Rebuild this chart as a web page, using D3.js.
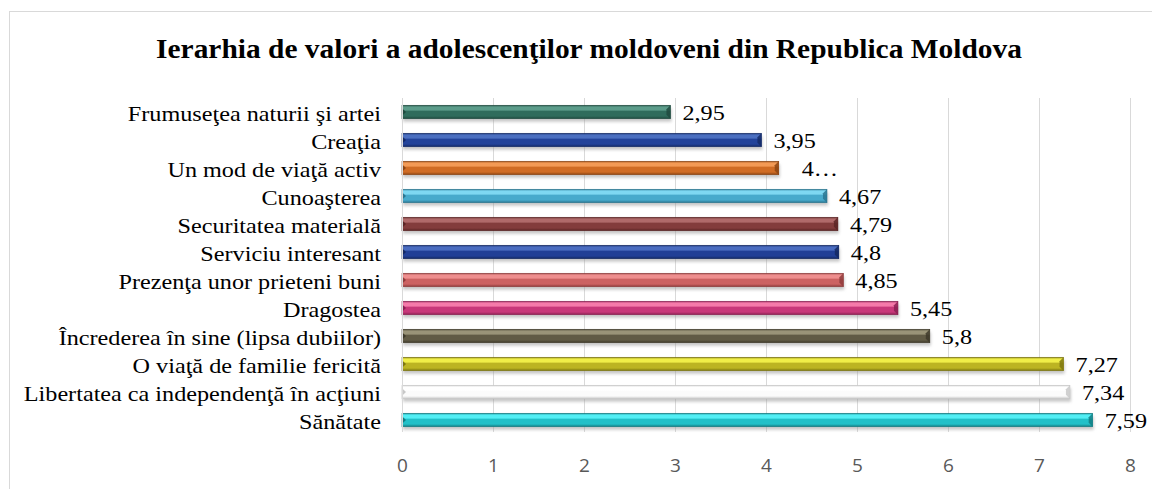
<!DOCTYPE html>
<html>
<head>
<meta charset="utf-8">
<script src="https://cdnjs.cloudflare.com/ajax/libs/d3/7.8.5/d3.min.js"></script>
<style>
  body { margin: 0; background: #fff; }
</style>
</head>
<body>
<div id="chart"></div>
<script>
var categories = [
    "Frumuseţea naturii şi artei",
    "Creaţia",
    "Un mod de viaţă activ",
    "Cunoaşterea",
    "Securitatea materială",
    "Serviciu interesant",
    "Prezenţa unor prieteni buni",
    "Dragostea",
    "Încrederea în sine (lipsa dubiilor)",
    "O viaţă de familie fericită",
    "Libertatea ca independenţă în acţiuni",
    "Sănătate"
];
var values = [2.95, 3.95, 4.14, 4.67, 4.79, 4.8, 4.85, 5.45, 5.8, 7.27, 7.34, 7.59];
var valueLabels = ["2,95", "3,95", "4…", "4,67", "4,79", "4,8", "4,85", "5,45", "5,8", "7,27", "7,34", "7,59"];
var ticks = [0, 1, 2, 3, 4, 5, 6, 7, 8];
// [highlight, base, dark]
var barColors = [
    ["#5c9c8a", "#2f6c5c", "#1e4a3e"],
    ["#4b6fc0", "#23439a", "#142a66"],
    ["#f39a55", "#d06c24", "#8c4412"],
    ["#7ed8f2", "#47aacc", "#2a7590"],
    ["#b06a6a", "#833c3c", "#5a2424"],
    ["#4a6cc0", "#213f96", "#132862"],
    ["#ee8e8e", "#cc6262", "#8e3c3c"],
    ["#f57aaa", "#c8387a", "#8a2052"],
    ["#9a9478", "#615b45", "#3e3a2a"],
    ["#f0ee48", "#bcb422", "#7c7610"],
    ["#ffffff", "#fbfbfb", "#c8c8c8"],
    ["#52eef4", "#22c0c8", "#137c82"]
];

var serif = "'Liberation Serif', 'Times New Roman', serif";
var stretch = 1.1;
var W = 1152, H = 489;
var svg = d3.select("#chart").append("svg")
    .attr("width", W).attr("height", H);

// chart frame
svg.append("rect")
    .attr("x", 9.5).attr("y", 11.5)
    .attr("width", W + 20).attr("height", H + 20)
    .attr("fill", "#fff").attr("stroke", "#d9d9d9");

svg.append("text")
    .attr("transform", "translate(589,58) scale(1.09,1)")
    .attr("text-anchor", "middle")
    .style("font-family", serif)
    .style("font-weight", "bold")
    .style("font-size", "27px")
    .text("Ierarhia de valori a adolescenţilor moldoveni din Republica Moldova");

var x = d3.scaleLinear().domain([0, 8]).range([402, 1130]);
var y = d3.scaleBand().domain(categories).range([98, 434])
    .paddingInner(0.52).paddingOuter(0.26);

var defs = svg.append("defs");
barColors.forEach(function(c, i) {
    var g = defs.append("linearGradient")
        .attr("id", "grad" + i)
        .attr("x1", 0).attr("y1", 0).attr("x2", 0).attr("y2", 1);
    g.append("stop").attr("offset", "0%").attr("stop-color", c[2]);
    g.append("stop").attr("offset", "12%").attr("stop-color", c[0]);
    g.append("stop").attr("offset", "35%").attr("stop-color", c[0]);
    g.append("stop").attr("offset", "45%").attr("stop-color", c[1]);
    g.append("stop").attr("offset", "80%").attr("stop-color", c[1]);
    g.append("stop").attr("offset", "100%").attr("stop-color", c[2]);
});
var blur = defs.append("filter").attr("id", "shadow")
    .attr("x", "-5%").attr("y", "-50%").attr("width", "110%").attr("height", "250%");
blur.append("feGaussianBlur").attr("stdDeviation", 1.5);

// gridlines
svg.append("g").selectAll("line")
    .data(ticks.slice(1))
    .enter().append("line")
    .attr("x1", function(d) { return x(d) + 0.5; })
    .attr("x2", function(d) { return x(d) + 0.5; })
    .attr("y1", 98).attr("y2", 432)
    .attr("stroke", "#d9d9d9");

// shadows
svg.append("g").selectAll("rect")
    .data(values)
    .enter().append("rect")
    .attr("x", x(0) + 1)
    .attr("y", function(d, i) { return y(categories[i]) + 3; })
    .attr("width", function(d) { return x(d) - x(0); })
    .attr("height", y.bandwidth())
    .attr("fill", "#9a9a9a")
    .attr("opacity", 0.55)
    .attr("filter", "url(#shadow)");

// bars
var bars = svg.append("g").selectAll("g")
    .data(values)
    .enter().append("g");

bars.append("rect")
    .attr("x", x(0))
    .attr("y", function(d, i) { return y(categories[i]); })
    .attr("width", function(d) { return x(d) - x(0); })
    .attr("height", y.bandwidth())
    .attr("fill", function(d, i) { return "url(#grad" + i + ")"; })
    .attr("stroke", function(d, i) { return barColors[i][2]; })
    .attr("stroke-width", 0.6);

// bevelled end cap
bars.append("path")
    .attr("d", function(d, i) {
        var x1 = x(d), y0 = y(categories[i]), h = y.bandwidth(), b = 4;
        return "M" + (x1 - b) + "," + (y0 + b) + "L" + x1 + "," + y0 +
            "L" + x1 + "," + (y0 + h) + "L" + (x1 - b) + "," + (y0 + h - b) + "Z";
    })
    .attr("fill", function(d, i) { return barColors[i][2]; })
    .attr("opacity", 0.85);

// bevelled start
bars.append("path")
    .attr("d", function(d, i) {
        var x0 = x(0), y0 = y(categories[i]), h = y.bandwidth();
        return "M" + x0 + "," + (y0 + 3) + "L" + (x0 + 4) + "," + (y0 + h / 2) +
            "L" + x0 + "," + (y0 + h - 3) + "Z";
    })
    .attr("fill", function(d, i) { return barColors[i][2]; });

// axis line
svg.append("line")
    .attr("x1", x(0) + 0.5).attr("x2", x(0) + 0.5)
    .attr("y1", 98).attr("y2", 432)
    .attr("stroke", "#d9d9d9");

// value labels
svg.append("g").selectAll("text")
    .data(values)
    .enter().append("text")
    .attr("transform", function(d, i) {
        var tx = x(d) + (valueLabels[i] === "4…" ? 23 : 12);
        var ty = y(categories[i]) + y.bandwidth() / 2 + 0.5;
        return "translate(" + tx + "," + ty + ") scale(1.1,1)";
    })
    .attr("dy", "0.35em")
    .style("font-family", serif)
    .style("font-size", "22px")
    .attr("fill", "#000")
    .text(function(d, i) { return valueLabels[i]; });

// category labels
svg.append("g").selectAll("text")
    .data(categories)
    .enter().append("text")
    .attr("transform", function(d) {
        return "translate(381," + (y(d) + y.bandwidth() / 2 + 1.5) + ") scale(" + stretch + ",1)";
    })
    .attr("dy", "0.35em")
    .attr("text-anchor", "end")
    .style("font-family", serif)
    .style("font-size", "22px")
    .attr("fill", "#000")
    .text(function(d) { return d; });

// x axis tick labels
var xAxis = d3.axisBottom(x).tickValues(ticks).tickSize(0).tickPadding(0)
    .tickFormat(d3.format("d"));
var ax = svg.append("g").attr("transform", "translate(0,458)").call(xAxis);
ax.select(".domain").remove();
ax.selectAll("text")
    .style("font-family", "'Open Sans', 'Liberation Sans', sans-serif")
    .style("font-size", "19px")
    .attr("fill", "#595959");
</script>
</body>
</html>
